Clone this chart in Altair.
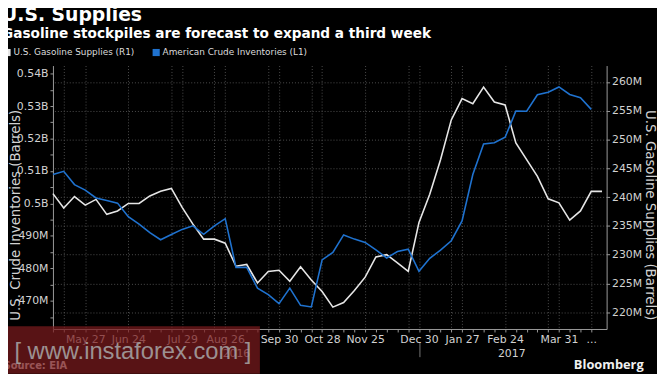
import altair as alt
import pandas as pd

# ---------------- data ----------------
first_week = "2016-05-06"
gasoline = [240.6, 238.1, 240.1, 238.6, 239.6, 237.0, 237.6, 238.9, 238.9, 240.2,
            241.0, 241.5, 238.2, 235.3, 232.7, 232.7, 232.0, 228.0, 228.3, 225.1,
            227.1, 227.3, 225.4, 227.9, 225.6, 223.6, 220.9, 221.7, 223.8, 226.1,
            229.6, 230.0, 228.6, 227.1, 235.6, 240.5, 246.5, 253.4, 257.1, 256.2,
            259.1, 256.5, 256.0, 249.4, 246.5, 243.6, 239.7, 239.0, 236.0, 237.6,
            241.0, 241.0]  # millions of barrels (right axis)
crude = [508.9, 509.9, 505.8, 504.1, 501.7, 500.9, 500.1, 495.9, 493.6, 491.0,
         488.8, 490.4, 492.0, 493.1, 490.5, 493.1, 495.3, 480.3, 480.3, 473.9,
         471.9, 469.1, 473.9, 468.6, 468.1, 482.6, 484.9, 490.3, 489.0, 488.0,
         485.7, 483.2, 485.2, 485.9, 479.1, 483.1, 485.6, 488.5, 494.6, 508.9,
         518.3, 518.7, 520.4, 528.5, 528.4, 533.5, 534.3, 535.9, 533.6, 532.6,
         529.0]  # millions of barrels (left axis)

label_dates = ["2016-05-27", "2016-06-24", "2016-07-29", "2016-08-26", "2016-09-30",
               "2016-10-28", "2016-11-25", "2016-12-30", "2017-01-27", "2017-02-24",
               "2017-03-31", "2017-04-21"]
label_texts = ["May 27", "Jun 24", "Jul 29", "Aug 26", "Sep 30", "Oct 28", "Nov 25",
               "Dec 30", "Jan 27", "Feb 24", "Mar 31", "..."]
grid_dates = ["2016-05-13", "2016-05-27", "2016-06-24", "2016-07-22", "2016-07-29",
              "2016-08-19", "2016-08-26", "2016-09-23", "2016-09-30", "2016-10-21",
              "2016-10-28", "2016-11-25", "2016-12-23", "2016-12-30", "2017-01-20",
              "2017-01-27", "2017-02-24", "2017-03-24", "2017-03-31", "2017-04-21"]
year_dates = ["2016-09-02", "2017-02-28"]
year_break = ["2016-12-30"]
x_range = ["2016-05-06", "2017-05-01"]

left_ticks = list(range(465, 541, 5))
right_ticks = list(range(220, 261, 5))

S_GAS = "U.S. Gasoline Supplies (R1)"
S_CRUDE = "American Crude Inventories (L1)"

weeks = pd.date_range(first_week, periods=len(gasoline), freq="7D")
gas_df = pd.DataFrame({"date": weeks, "value": gasoline, "series": S_GAS})
crude_df = pd.DataFrame({"date": weeks[:len(crude)], "value": crude, "series": S_CRUDE})


def dt(s):
    t = pd.Timestamp(s)
    return alt.DateTime(year=t.year, month=t.month, date=t.day)


FONT = "DejaVu Sans"
AX = "#9a9a9a"
LBL = "#d2d2d2"
GRID = "#4d4d4d"

xscale = alt.Scale(domain=[dt(d) for d in x_range])

keys = "[" + ",".join(f"'{d}'" for d in label_dates) + "]"
txts = "[" + ",".join(f"'{t}'" for t in label_texts) + "]"
key_expr = "timeFormat(datum.value, '%Y-%m-%d')"
label_expr = f"indexof({keys}, {key_expr}) >= 0 ? {txts}[indexof({keys}, {key_expr})] : ''"

x_main = alt.X("date:T", scale=xscale, title=None,
               axis=alt.Axis(orient="bottom", values=[dt(d) for d in weeks[:len(crude)]],
                             labelExpr=label_expr,
                             grid=False, domainColor=AX, tickColor=AX, tickSize=3,
                             labelPadding=2, labelColor=LBL, labelFontSize=11, labelFont=FONT,
                             labelOverlap=False, labelFlush=False, labelBound=False))
x_year = alt.X("date:T", scale=xscale, title=None,
               axis=alt.Axis(orient="bottom", values=[dt(d) for d in year_dates],
                             labelExpr="timeFormat(datum.value, '%Y')",
                             ticks=False, domain=False, grid=False, offset=16, labelPadding=3,
                             labelColor=LBL, labelFontSize=11, labelFont=FONT,
                             labelOverlap=False, labelFlush=False))
x_sep = alt.X("date:T", scale=xscale, title=None,
              axis=alt.Axis(orient="bottom", values=[dt(d) for d in year_break], labels=False,
                            domain=False, grid=False, ticks=True, tickSize=15,
                            tickColor="#777777", offset=13))
x_grid = alt.X("date:T", scale=xscale, title=None,
               axis=alt.Axis(orient="bottom", values=[dt(d) for d in grid_dates], labels=False,
                             domain=False, ticks=False, grid=True, gridColor=GRID,
                             gridDash=[1, 2], gridWidth=1))

left_label = ("datum.value % 10 != 0 ? '' : (datum.value >= 500 ? "
              "format(datum.value / 1000, '~g') + 'B' : datum.value + 'M')")
y_crude = alt.Y("value:Q", scale=alt.Scale(domain=[461.3, 542.5], nice=False, zero=False),
                axis=alt.Axis(orient="left", values=left_ticks, labelExpr=left_label, grid=False,
                              domainColor=AX, tickColor=AX, tickSize=3, labelPadding=2,
                              labelColor=LBL, labelFontSize=11, labelFont=FONT,
                              title="U.S. Crude Inventories (Barrels)", titleAngle=270,
                              titleX=-38, titleY=151, titleAlign="center",
                              titleBaseline="middle", titleFont=FONT, titleFontSize=13.5,
                              titleFontWeight="normal", titleColor=LBL))
y_gas = alt.Y("value:Q", scale=alt.Scale(domain=[217.1, 262.84], nice=False, zero=False),
              axis=alt.Axis(orient="right", values=right_ticks, labelExpr="datum.value + 'M'",
                            grid=True, gridColor=GRID, gridDash=[1, 2],
                            domainColor=AX, tickColor=AX, tickSize=3, labelPadding=2,
                            labelColor=LBL, labelFontSize=11, labelFont=FONT,
                            title="U.S. Gasoline Supplies (Barrels)", titleAngle=90,
                            titleX=43, titleY=151, titleAlign="center",
                            titleBaseline="middle", titleFont=FONT, titleFontSize=13.5,
                            titleFontWeight="normal", titleColor=LBL))

color = alt.Color("series:N",
                  scale=alt.Scale(domain=[S_GAS, S_CRUDE], range=["#e6e6e6", "#1f72cf"]),
                  legend=alt.Legend(title=None, orient="none", legendX=-51, legendY=-18,
                                    direction="horizontal", symbolType="square", symbolSize=3,
                                    symbolStrokeWidth=5.5, symbolOpacity=1,
                                    labelFontSize=9, labelColor="#dcdcdc",
                                    labelFont=FONT, columnPadding=9, labelOffset=2))

grid_layer = alt.Chart(gas_df).mark_line(strokeOpacity=0).encode(
    x=x_grid, y=alt.Y("value:Q", axis=None))
sep_layer = alt.Chart(gas_df).mark_line(strokeOpacity=0).encode(
    x=x_sep, y=alt.Y("value:Q", axis=None))
gas_line = alt.Chart(gas_df).mark_line(strokeWidth=1.6).encode(x=x_main, y=y_gas, color=color)
crude_line = alt.Chart(crude_df).mark_line(strokeWidth=1.6).encode(x=x_year, y=y_crude, color=color)

source = alt.Chart(pd.DataFrame({"t": ["Source: EIA"]})).mark_text(
    align="left", baseline="alphabetic", font=FONT, fontSize=10, fontWeight="bold",
    color="#e8e8e8").encode(text="t:N", x=alt.value(-50), y=alt.value(307))
box = alt.Chart(pd.DataFrame({"t": [""]})).mark_rect(color="#7a1a1d", opacity=0.72).encode(
    x=alt.value(-51.5), x2=alt.value(209.5), y=alt.value(264), y2=alt.value(312))
watermark = alt.Chart(pd.DataFrame({"t": ["[  www.instaforex.com ]"]})).mark_text(
    align="left", baseline="alphabetic", font="Liberation Sans",
    fontSize=24, color="#a8a8a8", opacity=0.85).encode(
    text="t:N", x=alt.value(-39), y=alt.value(297))
bloomberg = alt.Chart(pd.DataFrame({"t": ["Bloomberg"]})).mark_text(
    align="right", baseline="alphabetic", font="Open Sans", fontSize=13, fontWeight="bold",
    color="#f0f0f0").encode(text="t:N", x=alt.value(598), y=alt.value(307))

chart = alt.layer(grid_layer, sep_layer, gas_line, crude_line, source, box, watermark,
                  bloomberg).resolve_scale(y="independent").resolve_axis(
    x="independent", y="independent").properties(
    width=560.5, height=266.7,
    autosize=alt.AutoSizeParams(type="none"),
    padding={"left": 45.5, "top": 56, "right": 51, "bottom": 44},
    background="#000000",
    title=alt.TitleParams(
        text="U.S. Supplies",
        subtitle="Gasoline stockpiles are forecast to expand a third week",
        anchor="start", frame="group", dx=-51.5, offset=7,
        font=FONT, fontSize=19, fontWeight="bold", color="#ffffff",
        subtitleFont=FONT, subtitleFontSize=13.8, subtitleFontWeight="bold",
        subtitleColor="#ffffff", subtitlePadding=2)
).configure_view(stroke=None)

chart.save("out.html", embed_options={"renderer": "svg", "actions": False})
